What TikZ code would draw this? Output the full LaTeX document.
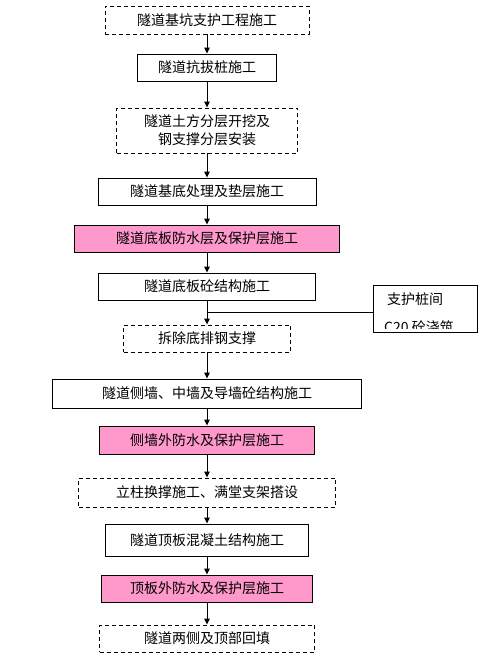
\documentclass[tikz,border=0pt]{standalone}
\usepackage{fontspec}
\newfontfamily\zh{Noto Sans CJK SC}
\usetikzlibrary{arrows.meta,positioning}
\definecolor{proof}{HTML}{FF99CC}
\tikzset{
  work/.style={draw=black,line width=0.9pt,fill=white,inner sep=0pt,
    align=center,font=\zh\fontsize{14}{18}\selectfont,minimum height=27pt},
  planwork/.style={work,dash pattern=on 4pt off 3pt},
  proofwork/.style={work,fill=proof},
  flow/.style={-{Triangle[length=6pt,width=5.5pt]},draw=black,line width=0.9pt},
  link/.style={draw=black,line width=0.9pt},
  note/.style={font=\zh\fontsize{14}{18}\selectfont,inner sep=0pt}
}

\begin{document}
\begin{tikzpicture}[x=1pt,y=-1pt]
  \useasboundingbox (0,0) rectangle (482,659);

  \node[planwork,minimum width=204pt,minimum height=28pt] (pit) at (207,20) {隧道基坑支护工程施工};
  \node[work,minimum width=139pt] (pile) at (207,67.5) {隧道抗拔桩施工};
  \node[planwork,minimum width=181pt,minimum height=45pt] (dig) at (207,130.5)
    {隧道土方分层开挖及\\钢支撑分层安装};
  \node[work,minimum width=218pt] (base) at (207,191.5) {隧道基底处理及垫层施工};
  \node[proofwork,minimum width=265pt] (floorproof) at (207,238.5) {隧道底板防水层及保护层施工};
  \node[work,minimum width=217pt] (floor) at (207,286.5) {隧道底板砼结构施工};
  \node[planwork,minimum width=167pt] (unbrace) at (207,338.5) {拆除底排钢支撑};
  \node[work,minimum width=309pt,minimum height=29pt] (wall) at (207,393.5) {隧道侧墙、中墙及导墙砼结构施工};
  \node[proofwork,minimum width=215pt,minimum height=28pt] (wallproof) at (207,440) {侧墙外防水及保护层施工};
  \node[planwork,minimum width=257pt,minimum height=29pt] (prop) at (207,492.5) {立柱换撑施工、满堂支架搭设};
  \node[work,minimum width=203pt,minimum height=32pt] (roof) at (207,540) {隧道顶板混凝土结构施工};
  \node[proofwork,minimum width=211pt] (roofproof) at (207,588.5) {顶板外防水及保护层施工};
  \node[planwork,minimum width=215pt] (fill) at (207,638.5) {隧道两侧及顶部回填};

  \draw[flow] (pit) -- (pile);
  \draw[flow] (pile) -- (dig);
  \draw[flow] (dig) -- (base);
  \draw[flow] (base) -- (floorproof);
  \draw[flow] (floorproof) -- (floor);
  \draw[flow] (floor) -- (unbrace);
  \draw[flow] (unbrace) -- (wall);
  \draw[flow] (wall) -- (wallproof);
  \draw[flow] (wallproof) -- (prop);
  \draw[flow] (prop) -- (roof);
  \draw[flow] (roof) -- (roofproof);
  \draw[flow] (roofproof) -- (fill);

  % side note, second line cut off by its box
  \node[work,minimum width=104pt,minimum height=47pt] (side) at (425,308.5) {};
  \node[note] (sidetop) at (415,299) {支护桩间};
  \begin{scope}
    \clip ([yshift=3.5pt]side.south west) rectangle (side.north east);
    \node[note] (sidecut) at (419,327) {C20 砼浇筑};
  \end{scope}
  \coordinate (tap) at (207,312);
  \draw[link] (tap) -- (tap -| side.west);
\end{tikzpicture}
\end{document}
